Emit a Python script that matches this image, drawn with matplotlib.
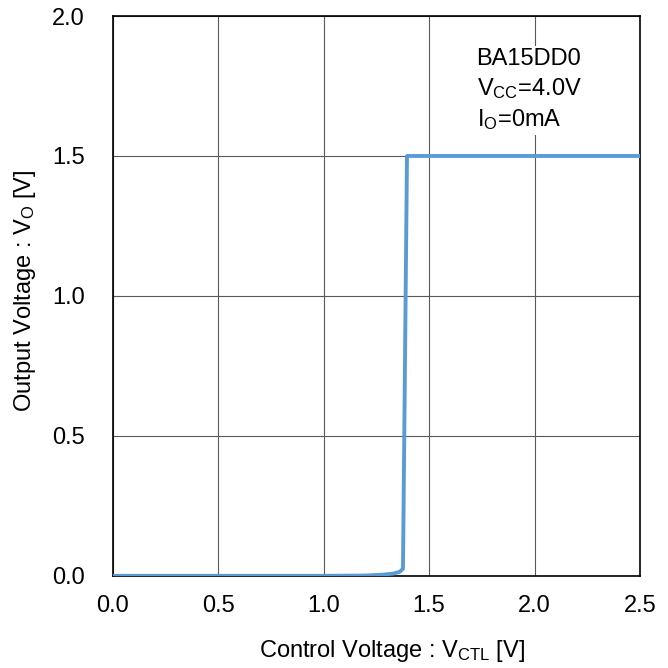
import matplotlib
matplotlib.use("Agg")
import matplotlib.pyplot as plt

plt.rcParams['font.family'] = ['Liberation Sans', 'DejaVu Sans']
plt.rcParams['mathtext.fontset'] = 'custom'
plt.rcParams['mathtext.rm'] = 'Liberation Sans'
plt.rcParams['mathtext.it'] = 'Liberation Sans'

# Control voltage (V) vs output voltage (V)
vctl = [0.0, 1.0, 1.2, 1.28, 1.33, 1.36, 1.376, 1.395, 2.5]
vout = [0.0, 0.0, 0.001, 0.004, 0.008, 0.014, 0.025, 1.5, 1.5]

xticks = [0.0, 0.5, 1.0, 1.5, 2.0, 2.5]
yticks = [0.0, 0.5, 1.0, 1.5, 2.0]

fig = plt.figure(figsize=(6.68, 6.68), dpi=100)
ax = fig.add_axes([0.169, 0.138, 0.789, 0.838])

ax.plot(vctl, vout, color='#5B9BD5', linewidth=2.8, solid_joinstyle='round', zorder=3)

ax.set_xlim(0, 2.5)
ax.set_ylim(0, 2.0)
ax.set_xticks(xticks)
ax.set_yticks(yticks)
ax.set_xticklabels([f"{t:.1f}" for t in xticks])
ax.set_yticklabels([f"{t:.1f}" for t in yticks])
ax.tick_params(length=0, labelsize=17)
ax.tick_params(axis='x', pad=14)
ax.tick_params(axis='y', pad=20)
ax.grid(True, color='#595959', linewidth=0.8)
for s in ax.spines.values():
    s.set_color('black')
    s.set_linewidth(1.2)

ax.set_xlabel("Control Voltage : V$_{\\mathrm{CTL}}$ [V]", fontsize=17)
ax.set_ylabel("Output Voltage : V$_{\\mathrm{O}}$ [V]", fontsize=17)
ax.xaxis.set_label_coords(0.53, -0.111)
ax.yaxis.set_label_coords(-0.1425, 0.51)

ax.text(0.69, 0.943, "BA15DD0\nV$_{\\mathrm{CC}}$=4.0V\nI$_{\\mathrm{O}}$=0mA",
        transform=ax.transAxes, fontsize=17, va='top', ha='left', linespacing=1.32,
        bbox=dict(facecolor='white', edgecolor='none', pad=2))

fig.savefig("out.png", dpi=100)
